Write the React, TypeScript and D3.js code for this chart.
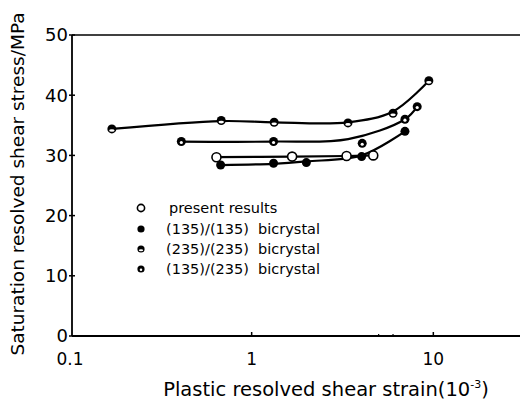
import React from "react";
import * as d3 from "d3";

// ---- data ----
const strainTicks = [0.1, 1, 10];
const strainTickLabels = ["0.1", "1", "10"];
const strainMinorTicks = [5, 6];
const stressTicks = [0, 10, 20, 30, 40, 50];

const seriesNames = [
  "present results",
  "(135)/(135)  bicrystal",
  "(235)/(235)  bicrystal",
  "(135)/(235)  bicrystal",
];

// measured points
const presentStrain = [0.64, 1.67, 3.33, 4.67];
const presentStress = [29.7, 29.8, 29.9, 30.0];
const b135Strain = [0.675, 1.32, 2.0, 4.03, 6.98];
const b135Stress = [28.4, 28.7, 28.8, 29.8, 34.0];
const b235Strain = [0.17, 0.68, 1.33, 3.39, 6.0, 9.45];
const b235Stress = [34.4, 35.8, 35.5, 35.4, 37.0, 42.4];
const mixStrain = [0.41, 1.32, 4.06, 6.98, 8.15];
const mixStress = [32.3, 32.3, 32.0, 36.0, 38.1];

// hand-drawn fit curves
const presentFitStrain = [0.64, 1.67, 3.33, 4.67];
const presentFitStress = [29.7, 29.8, 29.9, 30.0];
const b135FitStrain = [0.675, 1.32, 2.0, 4.03, 6.98];
const b135FitStress = [28.4, 28.6, 29.0, 30.0, 34.0];
const b235FitStrain = [0.17, 0.68, 1.33, 3.39, 6.0, 9.45];
const b235FitStress = [34.4, 35.7, 35.5, 35.5, 37.3, 42.4];
const mixFitStrain = [0.41, 1.32, 3.4, 6.98, 8.15];
const mixFitStress = [32.3, 32.3, 32.7, 36.0, 38.1];

const FONT = "'DejaVu Sans', sans-serif";

type Kind = "open" | "filled" | "topHalf" | "dot";

function Marker({ cx, cy, r, kind }: { cx: number; cy: number; r: number; kind: Kind }) {
  if (kind === "open")
    return <circle cx={cx} cy={cy} r={r} fill="#fff" stroke="#000" strokeWidth={1.6} />;
  if (kind === "filled") return <circle cx={cx} cy={cy} r={r} fill="#000" />;
  if (kind === "topHalf")
    return (
      <g>
        <circle cx={cx} cy={cy} r={r} fill="#000" />
        <ellipse cx={cx} cy={cy + r * 0.35} rx={r * 0.6} ry={r * 0.3} fill="#fff" />
      </g>
    );
  return (
    <g>
      <circle cx={cx} cy={cy} r={r} fill="#000" />
      <circle cx={cx} cy={cy + r * 0.2} r={r * 0.35} fill="#fff" />
    </g>
  );
}

export default function App() {
  const W = 520,
    H = 400;
  const x = d3.scaleLog().domain([0.1, 30]).range([70, 520]);
  const y = d3.scaleLinear().domain([0, 50]).range([336, 35]);
  const x0 = 72;

  const line = d3
    .line<[number, number]>()
    .x((d) => x(d[0]))
    .y((d) => y(d[1]))
    .curve(d3.curveCatmullRom.alpha(0.5));

  const fits = [
    [presentFitStrain, presentFitStress],
    [b135FitStrain, b135FitStress],
    [b235FitStrain, b235FitStress],
    [mixFitStrain, mixFitStress],
  ];
  const pts: [number[], number[], Kind][] = [
    [b235Strain, b235Stress, "topHalf"],
    [mixStrain, mixStress, "dot"],
    [b135Strain, b135Stress, "filled"],
    [presentStrain, presentStress, "open"],
  ];
  const legendKinds: Kind[] = ["open", "filled", "topHalf", "dot"];
  const legendY = [208, 229, 249, 269];

  return (
    <svg
      width={W}
      height={H}
      style={{ position: "absolute", left: 0, top: 0, background: "#fff" }}
      fontFamily={FONT}
    >
      <rect width={W} height={H} fill="#fff" />
      {/* frame */}
      <line x1={x0} x2={W} y1={y(50)} y2={y(50)} stroke="#000" strokeWidth={1.6} />
      <line x1={x0} x2={W} y1={y(0)} y2={y(0)} stroke="#000" strokeWidth={1.8} />
      <line x1={x0} x2={x0} y1={y(50)} y2={y(0)} stroke="#000" strokeWidth={1.8} />
      {/* y ticks */}
      {stressTicks.map((t) => (
        <g key={t}>
          <line x1={x0 - 3} x2={x0 + 3} y1={y(t)} y2={y(t)} stroke="#000" strokeWidth={1.5} />
          <text x={68} y={y(t)} dy="0.36em" textAnchor="end" fontSize={18}>
            {t}
          </text>
        </g>
      ))}
      {/* x ticks */}
      {strainTicks.map((t, i) => (
        <g key={t}>
          {i > 0 && (
            <line x1={x(t)} x2={x(t)} y1={y(0)} y2={y(0) - 4} stroke="#000" strokeWidth={1.5} />
          )}
          <text x={x(t)} y={365} textAnchor="middle" fontSize={17}>
            {strainTickLabels[i]}
          </text>
        </g>
      ))}
      {strainMinorTicks.map((t) => (
        <line key={t} x1={x(t)} x2={x(t)} y1={y(0)} y2={y(0) - 2} stroke="#000" strokeWidth={1.2} />
      ))}
      {/* axis titles */}
      <text x={326} y={396} textAnchor="middle" fontSize={19.5}>
        Plastic resolved shear strain(10
        <tspan dy={-8} fontSize={11}>
          -3
        </tspan>
        <tspan dy={8}>)</tspan>
      </text>
      <text transform={`translate(24,184) rotate(-90)`} textAnchor="middle" fontSize={18.5}>
        Saturation resolved shear stress/MPa
      </text>
      {/* fit curves */}
      {fits.map(([sx, sy], i) => (
        <path
          key={i}
          d={line(sx.map((v, j) => [v, sy[j]] as [number, number])) || ""}
          fill="none"
          stroke="#000"
          strokeWidth={2.2}
        />
      ))}
      {/* points */}
      {pts.map(([sx, sy, k], i) =>
        sx.map((v, j) => <Marker key={`${i}-${j}`} cx={x(v)} cy={y(sy[j])} r={4.5} kind={k} />)
      )}
      {/* legend */}
      {seriesNames.map((n, i) => (
        <g key={n}>
          <Marker cx={141} cy={legendY[i]} r={3.6} kind={legendKinds[i]} />
          <text x={i === 0 ? 169 : 166} y={legendY[i]} dy="0.36em" fontSize={14.5} xmlSpace="preserve">
            {n}
          </text>
        </g>
      ))}
    </svg>
  );
}
